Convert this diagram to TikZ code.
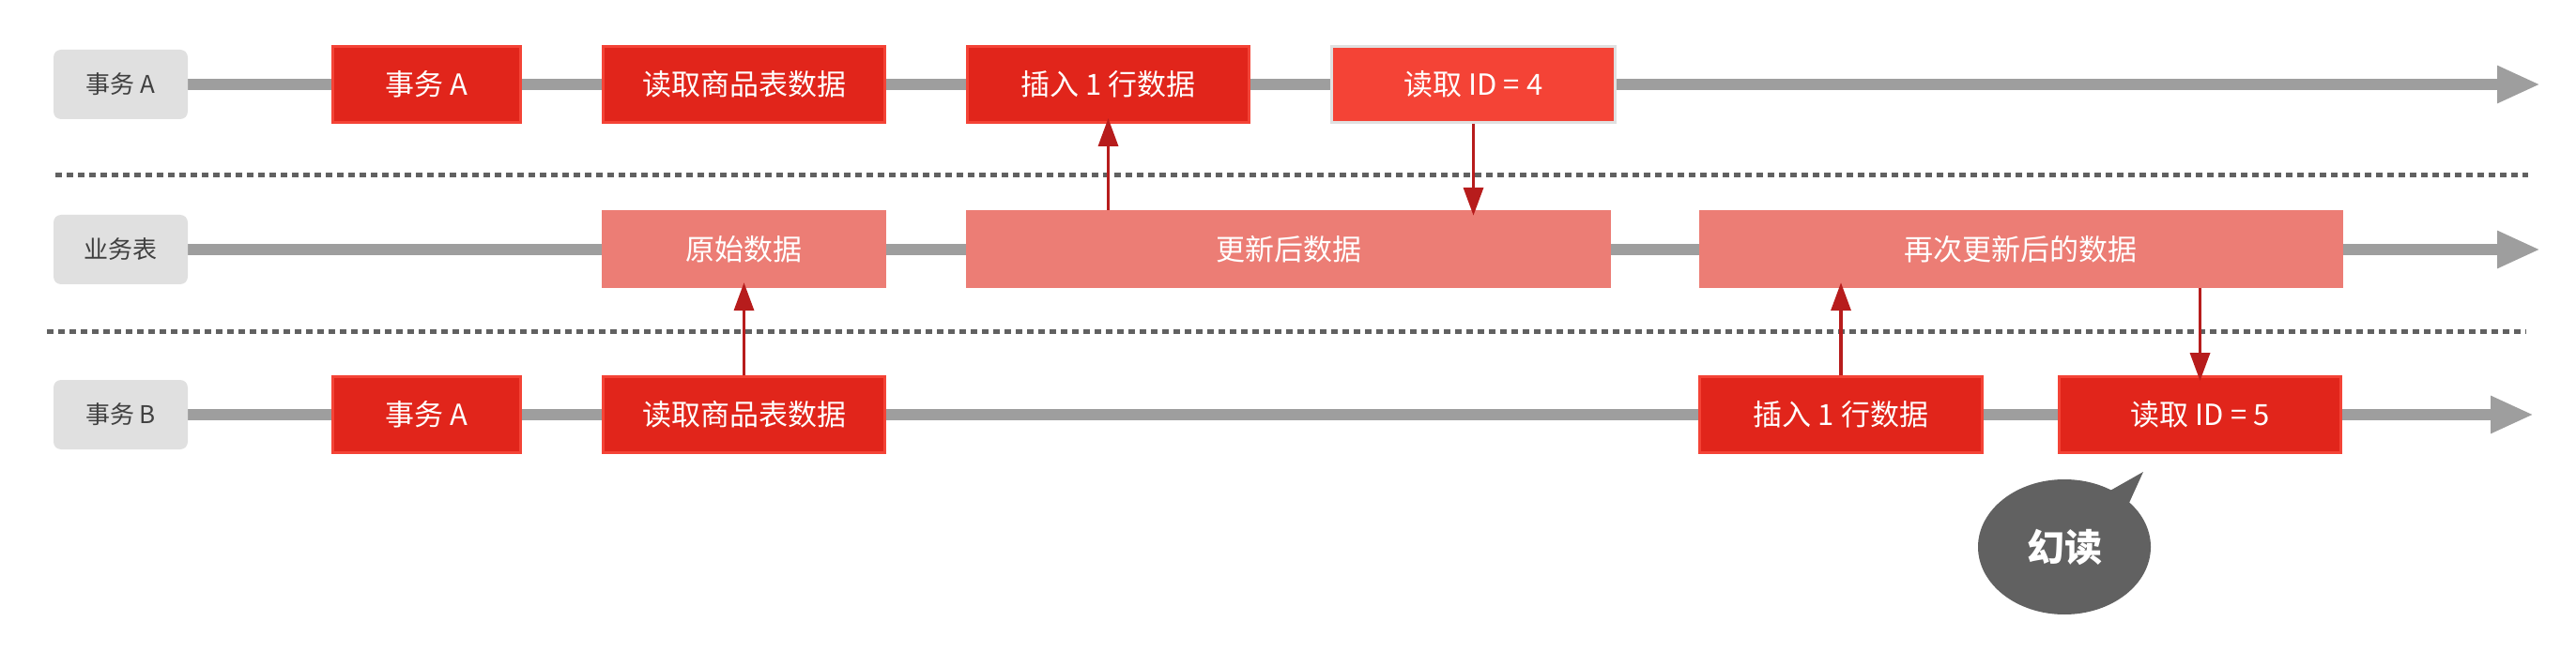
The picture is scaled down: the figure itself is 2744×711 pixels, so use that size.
\documentclass[tikz,border=0pt]{standalone}
\usepackage{fontspec}
\setmainfont{Noto Sans CJK SC}
\usepackage{xcolor}
\usepackage{tikz}
\usetikzlibrary{shapes.geometric, arrows.meta, positioning, backgrounds}
\definecolor{txred}{RGB}{225, 37, 27}
\definecolor{txedge}{RGB}{244, 67, 54}
\definecolor{datapink}{RGB}{236, 125, 117}
\definecolor{lanegray}{RGB}{224, 224, 224}
\definecolor{linegray}{RGB}{158, 158, 158}
\definecolor{bubblegray}{RGB}{97, 97, 97}
\definecolor{arrowred}{RGB}{183, 28, 28}

\begin{document}
\begin{tikzpicture}[
    x=1pt, y=-1pt,
    node distance=85pt,
    lane/.style={rectangle, rounded corners=8pt, fill=lanegray, minimum width=143pt, minimum height=74pt, inner sep=0pt, text=black!75, font=\fontsize{26}{30}\selectfont},
    txbox/.style={rectangle, draw=txedge, line width=3pt, fill=txred, minimum width=#1, minimum height=81pt, inner sep=0pt, text=white, font=\fontsize{31}{36}\selectfont},
    databox/.style={rectangle, fill=datapink, minimum width=#1, minimum height=83pt, inner sep=0pt, text=white, font=\fontsize{31}{36}\selectfont},
    timeline/.style={draw=linegray, line width=12pt, -{Triangle[length=46pt, width=37pt]}},
    readarrow/.style={draw=arrowred, line width=3.5pt, -{Triangle[length=30pt, width=21pt]}, shorten >=-6pt},
    divider/.style={draw=bubblegray, line width=5pt, dash pattern=on 7pt off 5pt},
    bubble/.style={ellipse, fill=bubblegray, minimum width=184pt, minimum height=144pt, inner sep=0pt, text=white, font=\fontsize{40}{44}\selectfont\bfseries}
]
    \useasboundingbox (0,0) rectangle (2744,711);

    % lanes
    \node[lane] (laneA) at (128.5,90) {事务 A};
    \node[lane] (laneT) at (128.5,266) {业务表};
    \node[lane] (laneB) at (128.5,442) {事务 B};

    % transaction A
    \node[txbox=200pt] (a1) at (454.5,90) {事务 A};
    \node[txbox=300pt, right=of a1] (a2) {读取商品表数据};
    \node[txbox=300pt, right=of a2] (a3) {插入 1 行数据};
    \node[txbox=302pt, draw=lanegray, fill=txedge, right=of a3] (a4) {读取 ID = 4};

    % table states
    \node[databox=303pt] (t1) at (792.5,265.5) {原始数据};
    \node[databox=687pt, right=of t1] (t2) {更新后数据};
    \node[databox=686pt, right=93pt of t2] (t3) {再次更新后的数据};

    % transaction B
    \node[txbox=200pt] (b1) at (454.5,442) {事务 A};
    \node[txbox=300pt, right=of b1] (b2) {读取商品表数据};
    \node[txbox=301pt] (b3) at (1961,442) {插入 1 行数据};
    \node[txbox=300pt, right=79pt of b3] (b4) {读取 ID = 5};

    \coordinate (endA) at (2706,90);
    \coordinate (endT) at (2706,266);
    \coordinate (endB) at (2699,442);

    \begin{scope}[on background layer]
        \draw[timeline] (laneA.east) -- (endA);
        \draw[timeline] (laneT.east) -- (endT);
        \draw[timeline] (laneB.east) -- (endB);
    \end{scope}

    \draw[divider] (59,187) -- (2693,187);
    \draw[divider] (50,353) -- (2691,353);

    \draw[readarrow] (b2.north) -- (b2.north |- t1.south);
    \draw[readarrow] (a3.south |- t2.north) -- (a3.south);
    \draw[readarrow] (a4.south) -- (a4.south |- t2.north);
    \draw[readarrow] (b3.north) -- (b3.north |- t3.south);
    \draw[readarrow] (b4.north |- t3.south) -- (b4.north);

    % phantom read
    \coordinate (tailtip) at (2283,503);
    \fill[bubblegray] (2246,524) -- (tailtip) -- (2268,536) -- cycle;
    \node[bubble] (phantom) at (2199,583) {幻读};
\end{tikzpicture}
\end{document}
